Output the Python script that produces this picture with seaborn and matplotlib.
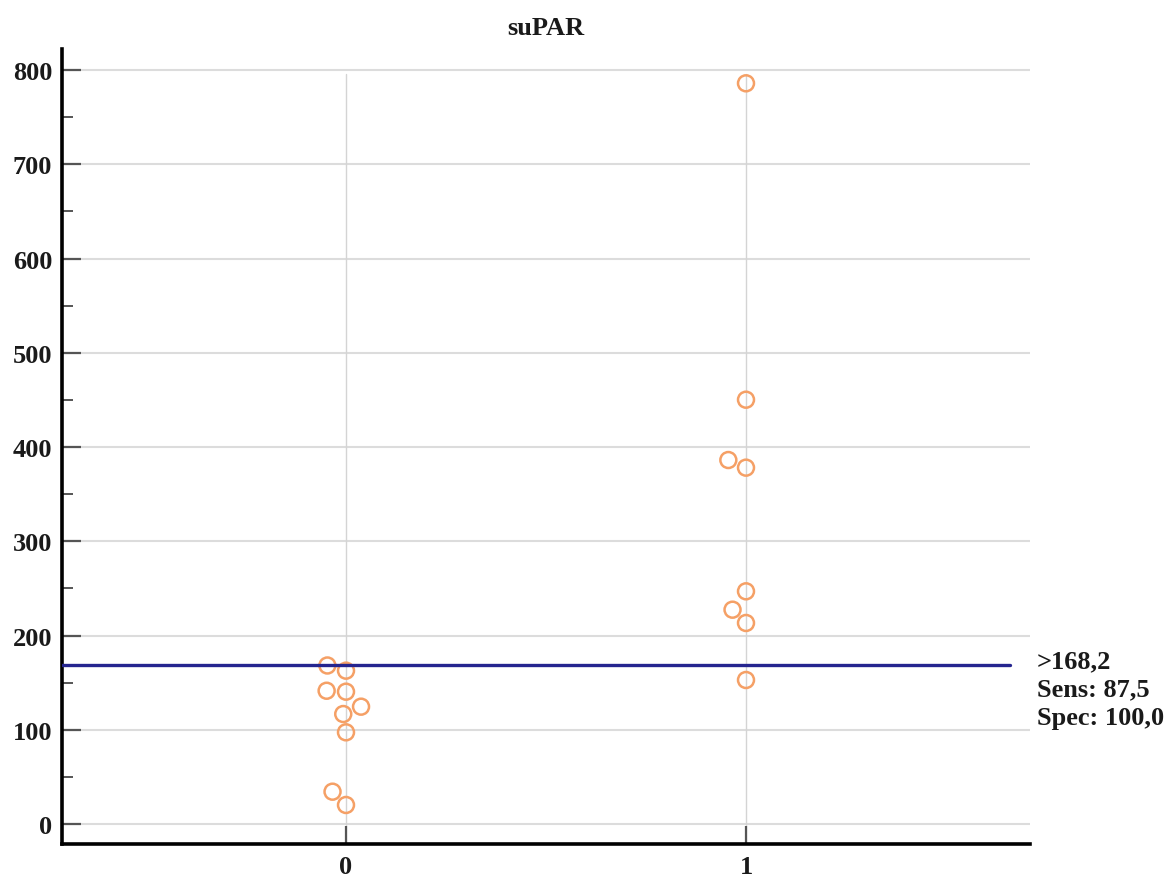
import pandas as pd
import numpy as np
import seaborn as sns
import matplotlib.pyplot as plt

# Dados
grupo_0 = [168.2, 162.7, 141.4, 140.4, 124.5, 116.7, 97.3, 34.3, 20.2]
grupo_1 = [785.9, 450.2, 386.2, 378.1, 246.9, 227.4, 213.3, 152.8]
categorias = ['0', '1']
corte = 168.2
rotulo_corte = ['>168,2', 'Sens: 87,5', 'Spec: 100,0']
y_ticks = list(range(0, 801, 100))

df = pd.DataFrame({
    'grupo': [categorias[0]] * len(grupo_0) + [categorias[1]] * len(grupo_1),
    'suPAR': grupo_0 + grupo_1,
})

sns.set_style('white')
plt.rcParams['font.family'] = ['Liberation Serif', 'DejaVu Serif']
plt.rcParams['font.weight'] = 'bold'
fs = 19

fig = plt.figure(figsize=(11.72, 8.78), dpi=100)
ax = fig.add_axes([62 / 1172, 33 / 878, 968 / 1172, 795 / 878])

# Linhas de grade
for v in y_ticks:
    ax.axhline(v, color='#dcdcdc', lw=1.5, zorder=0)
for i in range(len(categorias)):
    ax.axvline(i, ymax=0.968, color='#d4d4d4', lw=1.0, zorder=0)

sns.swarmplot(data=df, x='grupo', y='suPAR', order=categorias, ax=ax,
              size=11.5, facecolor='none', edgecolor='#f5a066', linewidth=1.8,
              zorder=3)
for col in ax.collections:
    col.set_facecolor('none')

# Linha de corte
ax.axhline(corte, xmin=0, xmax=0.979, color='#25258f', lw=2.4, zorder=4)
ax.annotate('\n'.join(rotulo_corte), xy=(1.007, corte),
            xycoords=('axes fraction', 'data'), xytext=(0, -17),
            textcoords='offset points', va='center', ha='left',
            fontsize=fs, fontweight='bold', linespacing=1.3,
            color='#1a1a1a', annotation_clip=False)

ax.set_xlim(-0.71, 1.71)
ax.set_ylim(-21.2, 822.3)
ax.set_yticks(y_ticks)
ax.set_yticks(np.arange(50, 800, 100), minor=True)
ax.set_xlabel('')
ax.set_ylabel('')
ax.set_title('suPAR', fontsize=fs, fontweight='bold', pad=11, color='#1a1a1a')

sns.despine(ax=ax)
for s in ['left', 'bottom']:
    ax.spines[s].set_linewidth(2.6)
    ax.spines[s].set_color('black')

ax.tick_params(axis='y', which='major', direction='in', length=14, width=1.6,
               color='#555555', pad=7, labelsize=fs, labelcolor='#1a1a1a', left=True)
ax.tick_params(axis='y', which='minor', direction='in', length=8, width=1.4,
               color='#555555', left=True)
ax.tick_params(axis='x', which='major', direction='in', length=13, width=1.6,
               color='#555555', pad=8, labelsize=fs, labelcolor='#1a1a1a', bottom=True)
for lbl in ax.get_xticklabels() + ax.get_yticklabels():
    lbl.set_fontweight('bold')

plt.savefig('out.png', dpi=100)
plt.close()
